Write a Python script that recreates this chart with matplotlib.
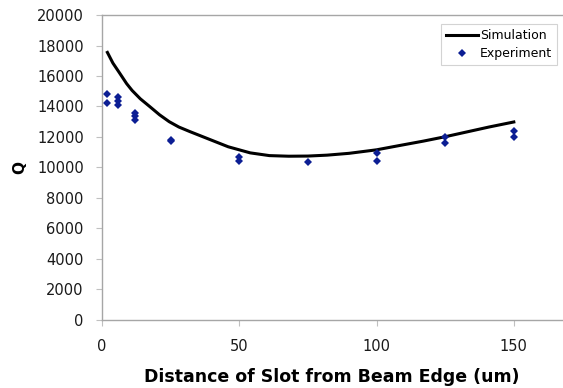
import matplotlib
matplotlib.use("Agg")
import matplotlib.pyplot as plt

plt.rcParams["font.family"] = ["DejaVu Sans"]

# simulation curve
sim_x = [2, 4, 6.5, 9, 11, 14, 17.5, 21, 24.5, 28, 32, 39, 46, 54, 61, 68, 75,
         82, 90, 100, 108, 117, 125, 133, 141, 150]
sim_q = [17550, 16850, 16180, 15500, 15050, 14500, 13980, 13450, 13000, 12650,
         12350, 11850, 11350, 10950, 10770, 10730, 10740, 10800, 10920, 11150,
         11420, 11720, 12010, 12330, 12650, 12980]

# measured points
exp_x = [2, 2, 6, 6, 6, 12, 12, 12, 25, 25, 50, 50, 75, 100, 100, 125, 125, 150, 150]
exp_q = [14820, 14250, 14640, 14380, 14120, 13590, 13370, 13130, 11800, 11700,
         10660, 10410, 10350, 10920, 10390, 12010, 11620, 12400, 11970]

x_ticks = [0, 50, 100, 150]
y_ticks = list(range(0, 20001, 2000))

fig = plt.figure(figsize=(5.63, 3.88), dpi=100)
ax = fig.add_axes([0.181, 0.1765, 0.817, 0.7845])

ax.plot(sim_x, sim_q, color="black", linewidth=2.2, label="Simulation",
        solid_joinstyle="round")
ax.plot(exp_x, exp_q, linestyle="none", marker="D", markersize=3.6,
        color="#0c1e94", markeredgewidth=0, label="Experiment")

ax.set_xlim(0, 167.5)
ax.set_ylim(0, 20000)
ax.set_xticks(x_ticks)
ax.set_yticks(y_ticks)

for side in ("left", "bottom", "top"):
    ax.spines[side].set_color("#a6a6a6")
    ax.spines[side].set_linewidth(1.0)
ax.spines["right"].set_visible(False)
ax.tick_params(axis="both", direction="out", length=4, color="#c0c0c0",
               labelsize=10.5, labelcolor="#1a1a1a")
ax.tick_params(axis="y", pad=9)
ax.tick_params(axis="x", pad=10)

ax.set_xlabel("Distance of Slot from Beam Edge (um)", fontsize=12.5,
              fontweight="bold", labelpad=10)
ax.set_ylabel("Q", fontsize=11, fontweight="bold", labelpad=7)

leg = ax.legend(loc="upper right", bbox_to_anchor=(0.99, 0.97), fontsize=9,
                frameon=True, fancybox=False, borderpad=0.4, handlelength=2.6,
                handletextpad=0.15, labelspacing=0.4, borderaxespad=0)
leg.get_frame().set_edgecolor("#c8c8c8")
leg.get_frame().set_linewidth(0.8)

fig.savefig("out.png", dpi=100)
plt.close(fig)
